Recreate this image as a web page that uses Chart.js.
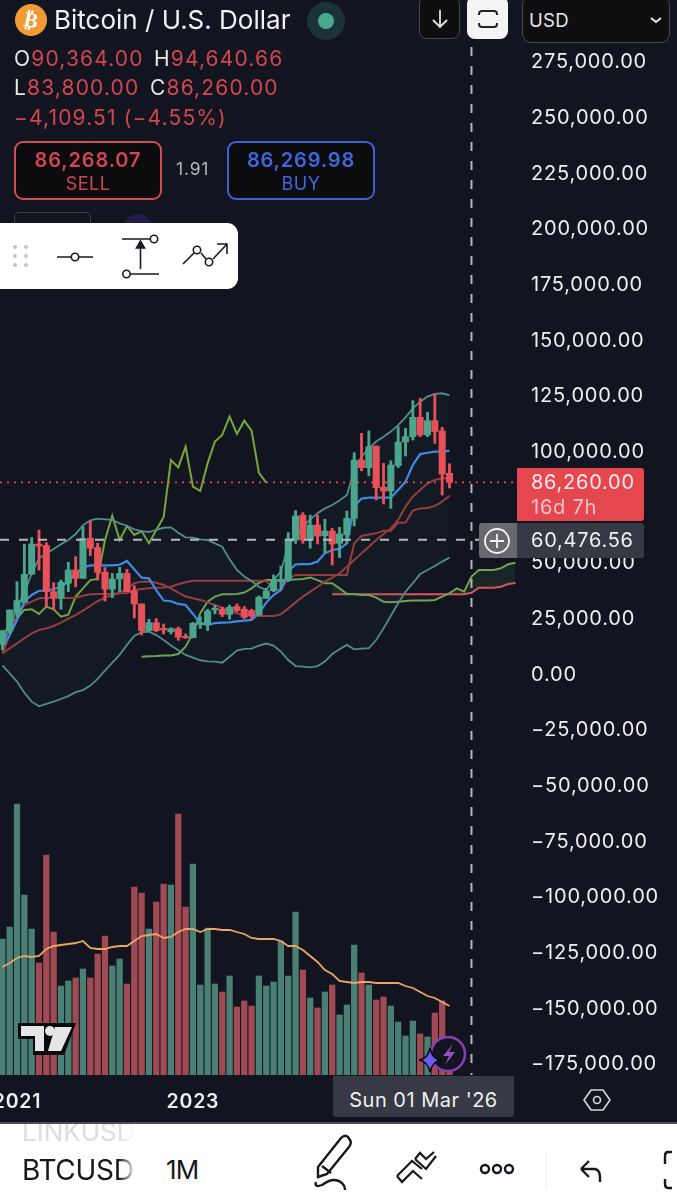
<!DOCTYPE html>
<html>
<head>
<meta charset="utf-8">
<title>BTCUSD 1M</title>
<script src="https://cdn.jsdelivr.net/npm/chart.js@4"></script>
<style>
  html, body { margin: 0; padding: 0; background: #12141f; }
  body { width: 677px; height: 1200px; position: relative; overflow: hidden; font-family: Inter, sans-serif; color: #fff; }
  canvas { position: absolute; left: 0; top: 0; }
  .abs { position: absolute; white-space: nowrap; }
  .red { color: #d2474f; }
  .ohlc { font-size: 21px; letter-spacing: 1.15px; line-height: 26px; color: #e9e9ec; }
  .tradebox { position: absolute; top: 141px; width: 143px; height: 55px; border-radius: 9px; background: #0c0c0f; text-align: center; }
  .tradebox b { display: block; font-size: 20px; font-weight: 600; letter-spacing: .85px; margin-top: 5px; line-height: 24px; }
  .tradebox span { display: block; font-size: 18px; line-height: 24px; letter-spacing: .5px; }
  .bar { position: absolute; left: 0; top: 1122px; width: 677px; height: 78px; background: #fff; border-top: 2px solid #4c4e54; box-sizing: border-box; overflow: hidden; color: #16181d; }
  .fade { -webkit-mask-image: linear-gradient(to right, #000 85%, transparent 100%); mask-image: linear-gradient(to right, #000 85%, transparent 100%); }
</style>
</head>
<body>
<canvas id="chart" width="677" height="1200"></canvas>

<!-- cabecera -->
<svg class="abs" style="left:14px;top:3px" width="36" height="36"><circle cx="17" cy="17" r="16" fill="#ef9a34"/><text x="17" y="24" text-anchor="middle" font-size="21" font-weight="700" fill="#fff" font-family="DejaVu Sans" transform="rotate(12 17 17)">₿</text></svg>
<div class="abs" style="left:54px;top:4px;font-size:26px;line-height:32px;color:#f2f2f4">Bitcoin / U.S. Dollar</div>
<svg class="abs" style="left:306px;top:1px" width="40" height="40"><circle cx="20" cy="20" r="19" fill="#1b3337"/><circle cx="20" cy="20" r="8" fill="#4aa88f"/></svg>

<div class="abs ohlc" style="left:14px;top:46px">O<span class="red">90,364.00</span></div>
<div class="abs ohlc" style="left:154px;top:46px">H<span class="red">94,640.66</span></div>
<div class="abs ohlc" style="left:14px;top:75px">L<span class="red">83,800.00</span></div>
<div class="abs ohlc" style="left:150px;top:75px">C<span class="red">86,260.00</span></div>
<div class="abs ohlc red" style="left:14px;top:105px;color:#d2474f">−4,109.51 (−4.55%)</div>

<div class="tradebox" style="left:14px;width:144px;border:2px solid #cf4e50;color:#d2474f"><b>86,268.07</b><span>SELL</span></div>
<div class="abs" style="left:176px;top:158px;font-size:17.5px;color:#b4b6bc;letter-spacing:.8px">1.91</div>
<div class="tradebox" style="left:227px;width:144px;border:2px solid #3d62d8;color:#3f66de"><b>86,269.98</b><span>BUY</span></div>

<div class="abs" style="left:14px;top:212px;width:75px;height:20px;border:1.5px solid #3c3f48;border-radius:5px"></div>
<svg class="abs" style="left:122px;top:213px" width="32" height="20"><circle cx="16" cy="16" r="15" fill="#221a4d"/></svg>

<!-- barra de herramientas blanca -->
<div class="abs" style="left:0;top:223px;width:238px;height:66px;background:#fff;border-radius:0 11px 11px 0"></div>
<svg class="abs" style="left:0;top:223px" width="238" height="66" fill="none" stroke="#1a1b20" stroke-width="1.6">
  <g fill="#c4c6cb" stroke="none"><circle cx="15" cy="24" r="2"/><circle cx="26" cy="24" r="2"/><circle cx="15" cy="33" r="2"/><circle cx="26" cy="33" r="2"/><circle cx="15" cy="42" r="2"/><circle cx="26" cy="42" r="2"/></g>
  <path d="M57 34H71M79 34H93"/><circle cx="75" cy="34" r="3.7"/>
  <path d="M122 16H150M131 51H159M140.500 46V20"/><path d="M140.500 14l-4 7h8z" fill="#1a1b20" transform="translate(0 4)"/><circle cx="154" cy="16" r="3.700"/><circle cx="126.500" cy="51" r="3.700"/>
  <path d="M183 41L194 30M201 30L206 36M213 36L227 21M217 21H227V31"/><circle cx="197" cy="27" r="3.700"/><circle cx="209" cy="39" r="3.700"/>
</svg>

<!-- botones arriba derecha -->
<div class="abs" style="left:419px;top:-4px;width:39px;height:41px;background:#0e0e11;border:1.5px solid #45474d;border-radius:8px"></div>
<svg class="abs" style="left:419px;top:0" width="40" height="38" fill="none" stroke="#e4e4e6" stroke-width="1.8"><path d="M21 10V27M14 20L21 27L28 20"/></svg>
<div class="abs" style="left:467px;top:-4px;width:41px;height:43px;background:#f4f4f6;border-radius:8px"></div>
<svg class="abs" style="left:467px;top:0" width="41" height="38" fill="none" stroke="#24252a" stroke-width="2"><path d="M12 15V14Q12 11 15 11H27Q30 11 30 14V15M12 23V24Q12 27 15 27H27Q30 27 30 24V23"/></svg>
<div class="abs" style="left:522px;top:-4px;width:146px;height:45px;background:#0e0e11;border:1.5px solid #45474d;border-radius:9px"></div>
<div class="abs" style="left:529px;top:8px;font-size:18.5px;line-height:24px;color:#e8e8ea;letter-spacing:.3px">USD</div>
<svg class="abs" style="left:648px;top:14px" width="16" height="12" fill="none" stroke="#e8e8ea" stroke-width="2"><path d="M3 4L8 8L13 4"/></svg>

<!-- etiquetas de precio -->
<div class="abs" style="left:517px;top:468px;width:127px;height:53px;background:#e5474f;border-radius:0 3px 3px 0"></div>
<div class="abs" style="left:531px;top:470px;font-size:20px;line-height:25px;letter-spacing:.75px;color:#fbeaea">86,260.00<br><span style="color:#f8c3c5">16d 7h</span></div>
<div class="abs" style="left:479px;top:523px;width:38px;height:35px;background:#68696f;border-radius:3px 0 0 3px"></div>
<div class="abs" style="left:517px;top:523px;width:127px;height:35px;background:#373a44;border-radius:0 3px 3px 0"></div>
<div class="abs" style="left:531px;top:528px;font-size:20px;line-height:25px;letter-spacing:.75px;color:#f0f0f2">60,476.56</div>
<svg class="abs" style="left:479px;top:523px" width="38" height="35" fill="none" stroke="#f4f4f6" stroke-width="1.8"><circle cx="18" cy="18" r="12"/><path d="M11 18H25M18 11V25"/></svg>

<!-- logo y rayo -->
<svg class="abs" style="left:17px;top:1022px" width="60" height="34"><path d="M1 1H59L47 33H16V17H1Z" fill="#0a0a0c"/><path d="M4 4H27V29H18V14H4ZM38 5H55L44 29H31Z" fill="#e6e6e8"/><circle cx="33" cy="9" r="5" fill="#e6e6e8"/></svg>
<svg class="abs" style="left:418px;top:1035px" width="52" height="40"><circle cx="30" cy="19" r="17" fill="#12141f" stroke="#8b3fb0" stroke-width="2.500"/><path d="M35 9L25 21H31L27 30L37 17H31Z" fill="#9a4cc4"/><path d="M12 13Q14 24 23 25Q14 27 12 37Q10 27 1 25Q10 24 12 13Z" fill="#6a5cf0" stroke="#0a0a0c" stroke-width="1.500"/></svg>

<!-- fecha -->
<div class="abs" style="left:333px;top:1076px;width:181px;height:41px;background:#373a44;border-radius:0 0 3px 3px;text-align:center;line-height:48px;font-size:20px;letter-spacing:.5px;color:#f0f0f2">Sun 01 Mar '26</div>
<svg class="abs" style="left:583px;top:1086px" width="28" height="28" fill="none" stroke="#d8d9dc" stroke-width="1.600"><path d="M8 4H20L27 14L20 24H8L1 14Z"/><circle cx="14" cy="14" r="3.500"/></svg>

<!-- barra inferior -->
<div class="bar">
  <div class="abs fade" style="left:22px;top:-6px;width:114px;overflow:hidden;font-size:26px;line-height:28px;color:#dcdde0">LINKUSD</div>
  <div class="abs fade" style="left:22px;top:30px;width:114px;overflow:hidden;font-size:28px;line-height:32px;letter-spacing:-.3px">BTCUSD</div>
  <div class="abs" style="left:166px;top:30px;font-size:26px;line-height:32px;letter-spacing:-.9px">1M</div>
  <div class="abs fade" style="left:22px;top:72px;width:114px;overflow:hidden;font-size:26px;line-height:28px;color:#dcdde0">LTCUSD</div>
  <svg class="abs" style="left:300px;top:0" width="377" height="78" fill="none" stroke="#16181d" stroke-width="2.400">
    <path d="M18 43L41 14Q45 10 48 13L50 16Q52 19 49 23L27 50L18 53Z"/><path d="M22 42L31 49"/><path d="M16 58Q14 64 22 61Q34 52 42 59Q45 62 45 66"/>
    <path d="M97 52L112 37L122 45M97 52L102 58L113 47L122 55M115 35L126 45L136 32M115 35L120 29L126 35L134 28" stroke-width="2.200"/>
    <circle cx="185" cy="45" r="4"/><circle cx="197" cy="45" r="4"/><circle cx="209" cy="45" r="4"/>
    <path d="M246 28V66" stroke="#eeeeef" stroke-width="1"/>
    <path d="M281 45H295Q300 46 300 53V58M281 45L289 37M281 45L289 53"/>
    <path d="M372 28H368Q365 28 365 32V40M372 64H368Q365 64 365 60V55"/>
  </svg>
</div>

<script>
// eje
const xTickIndex = [2, 26, 50];
const xTickLabels = ['2021', '2023', '2025'];
const yTicks = [275000, 250000, 225000, 200000, 175000, 150000, 125000, 100000, 75000, 50000, 25000, 0,
    -25000, -50000, -75000, -100000, -125000, -150000, -175000];

// velas mensuales, desde nov 2020 hasta dic 2025
const opens = [13550, 19700, 27500, 32400, 45000, 58600, 57900, 37200, 34200, 41000, 46900, 43200, 61200, 57000, 45900, 38300,
    42900, 45400, 37600, 31700, 19700, 23300, 20700, 19200, 20600, 17100, 16500, 22500, 22500, 29000, 29300, 27000,
    30500, 29300, 28700, 26700, 34200, 37600, 41700, 42400, 60400, 71600, 60400, 67100, 62300, 64400, 58900, 62700,
    70100, 96300, 92900, 102600, 84100, 82400, 93800, 104400, 106800, 115500, 107600, 114000, 109400, 90364];
const highs = [19700, 29000, 41700, 58500, 61500, 64900, 59200, 41200, 42400, 50400, 52900, 66400, 68900, 58900, 48000, 45400,
    48100, 47200, 39900, 31700, 24800, 25100, 22700, 21000, 21300, 18200, 23400, 26000, 29300, 31100, 30200, 31200,
    31700, 30500, 29300, 35300, 38700, 44700, 48700, 63700, 73600, 72700, 71600, 71600, 69700, 65600, 66100, 73400,
    99600, 108300, 109400, 102600, 94800, 96000, 111300, 110600, 123000, 124000, 117700, 126000, 111000, 94640];
const lows = [11000, 18500, 26000, 32400, 45000, 46900, 30500, 29000, 29300, 37200, 39400, 43200, 53400, 42400, 33000, 34500,
    37200, 37200, 25400, 17700, 19200, 19200, 18200, 18200, 15300, 16200, 16500, 20700, 19700, 27200, 26000, 24800,
    28200, 25100, 25200, 26600, 34200, 37200, 38300, 41700, 58900, 58900, 56700, 58600, 54400, 49200, 52500, 58900,
    66700, 91500, 89200, 78400, 76600, 74600, 92900, 98100, 105300, 106800, 106800, 103800, 80600, 83800];
const closes = [19700, 29000, 33200, 45000, 58600, 57700, 37200, 34500, 41400, 46900, 43200, 61200, 56700, 45900, 38300, 42900,
    45400, 37200, 31700, 19700, 23300, 19700, 20000, 20600, 16800, 16500, 23000, 23300, 28500, 29700, 27000, 30200,
    28700, 25700, 26400, 34700, 37500, 42400, 42400, 60900, 71200, 60400, 67100, 62200, 64400, 58600, 63100, 70100,
    96300, 92900, 102300, 83900, 82400, 94100, 104400, 106800, 115500, 107600, 114000, 109100, 90000, 86260];

const volumes = [136, 148, 271, 180, 146, 112, 220, 143, 89, 94, 97, 106, 97, 121, 139, 109, 116, 91, 188, 182, 146, 173, 191, 190,
    261, 168, 211, 90, 147, 91, 83, 99, 68, 74, 69, 99, 89, 93, 134, 99, 163, 105, 77, 67, 83, 90, 60, 70, 130, 102,
    90, 75, 78, 69, 53, 39, 54, 41, 38, 62, 74, 7];
const volumeMA = [108, 112, 117, 119, 118, 119, 126, 129, 130, 131, 132, 134, 127, 126, 126, 128, 129, 129, 134, 139, 140, 141, 137, 138,
    143, 146, 146, 143, 146, 146, 145, 145, 143, 141, 137, 136, 136, 136, 134, 129, 129, 125, 119, 113, 105, 101, 94, 93, 92, 93,
    93, 92, 92, 92, 92, 89, 87, 83, 79, 77, 73, 69];

// bandas de bollinger
const bbUpper = [13300, 20700, 30500, 36500, 45400, 52200, 54400, 56400, 58500, 60400, 63100, 67100, 69200, 70000, 69700, 69400,
    67900, 66800, 65200, 64400, 64000, 65000, 65900, 66100, 63700, 61600, 61500, 60700, 60400, 58900, 57400, 51700,
    47000, 44000, 42000, 39400, 37900, 42400, 46200, 58200, 61900, 66400, 69700, 72400, 74600, 76100, 78100, 80600,
    91800, 97800, 101600, 104600, 106800, 109100, 112000, 115500, 119500, 122500, 124800, 126000, 126300, 125400];
const bbLower = [4100, 500, -3200, -8200, -12200, -14300, -13200, -12200, -11000, -9700, -7900, -7000, -5000, -2000, 1700, 5300,
    8800, 13300, 17300, 19000, 19200, 17700, 15500, 13000, 10900, 8800, 7600, 6400, 5900, 5800, 5300, 8000,
    10700, 11500, 11600, 13000, 13900, 13000, 10300, 6500, 3800, 3500, 3200, 3800, 5800, 9200, 11300, 13300,
    11300, 11600, 11800, 15500, 20700, 26400, 32000, 37200, 41000, 45100, 46900, 48700, 50700, 52500];
const bbBasis = [12500, 17700, 24500, 32700, 35700, 37600, 37600, 38400, 39400, 41700, 45100, 48100, 49000, 49000, 49000, 49000,
    49300, 51000, 47200, 43500, 43200, 37900, 33200, 32900, 31700, 31200, 27200, 23000, 22200, 23100, 23300, 23400,
    23900, 24200, 24500, 27500, 32300, 35700, 37900, 46200, 49500, 49600, 49600, 50700, 54400, 55900, 56400, 58900,
    75400, 79000, 79400, 79400, 79400, 79400, 82900, 86600, 94100, 99000, 99600, 100100, 100100, 100400];

// ichimoku
const conversionLine = [9500, 17700, 26000, 31200, 32700, 34200, 34500, 34300, 34300, 34300, 34500, 35400, 36000, 36200, 36200, 36300,
    36500, 36500, 38000, 38400, 38700, 39000, 39100, 39400, 40500, 41400, 42100, 42100, 42100, 42100, 42100, 42100,
    42100, 42100, 42100, 42100, 42100, 38300, 38000, 43200, 44700, 44700, 44700, 44700, 44700, 44700, 44700, 44700,
    58900, 62200, 62900, 63400, 64600, 64600, 68200, 68300, 73600, 74600, 74800, 75700, 77600, 80300];
const baseLine = [9500, 11700, 14000, 16300, 18500, 20000, 20700, 21800, 23300, 25100, 26700, 28700, 30800, 32900, 34500, 35700,
    36500, 38700, 41000, 41700, 41800, 41200, 40200, 38700, 36800, 35000, 34200, 33500, 32400, 31200, 30000, 28700,
    27500, 26700, 26300, 26300, 26300, 26300, 27000, 29700, 32400, 35000, 37200, 39400, 41700, 43500, 45400, 48400,
    51400, 54400, 57400, 60400, 63100, 65600, 69400, 75400, 79900, 82900, 85900, 87400, 88000, 88400];
const laggingSpan = [16500, 23000, 25200, 29000, 29300, 27200, 30500, 29300, 26000, 26900, 35000, 38700, 42400, 42900, 60400, 71300,
    60400, 66700, 62700, 64400, 58900, 64900, 70600, 96300, 93000, 102300, 84400, 82400, 94800, 104600, 107600, 115800,
    108000, 114000, 109500, 90600, 86200];
const leadingAStart = 19;
const leadingA = [8000, 8200, 8300, 8500, 8500, 9200, 12500, 18500, 27500, 32700, 35000, 36000, 36000, 36200, 36800, 38700, 41200,
    42400, 42400, 42400, 42400, 42700, 42900, 43600, 42400, 41000, 41000, 38700, 36200, 36200, 35700, 35700, 34500, 32700,
    32400, 32700, 33000, 33200, 33200, 33200, 33500, 35000, 36500, 38700, 37200, 44000, 46900, 46900, 46900, 47700, 49500, 50200];
const leadingBStart = 45;
const leadingB = [36000, 36000, 36000, 36000, 36000, 36000, 36000, 36000, 36000, 36000, 36000, 36000, 36000, 36000, 36000, 36000,
    36000, 36000, 36000, 36700, 39000, 39000, 39000, 39400, 40600, 41100];

const lastPrice = 86260;
const crosshairPrice = 60476.56;
const crosshairIndex = 64;

// convertir a puntos x,y
function puntos(valores, inicio) {
    return valores.map(function (v, i) {
        return { x: i + (inicio || 0), y: v };
    });
}

const velaVerde = '#4ba58d', velaRoja = '#e8505a';
const volVerde = '#4a8073', volRoja = '#a04a54';
const subida = closes.map(function (c, i) { return c >= opens[i]; });
const colorVela = subida.map(function (s) { return s ? velaVerde : velaRoja; });
const colorVol = subida.map(function (s) { return s ? volVerde : volRoja; });

function linea(label, valores, color, ancho, inicio, extra) {
    return Object.assign({
        type: 'line', label: label, data: puntos(valores, inicio), borderColor: color, borderWidth: ancho,
        pointRadius: 0, tension: 0, fill: false, order: 5, yAxisID: 'y'
    }, extra || {});
}

// linea de ultimo precio y cruceta
const crucetaPlugin = {
    id: 'cruceta',
    beforeDraw: function (chart) {
        chart.ctx.letterSpacing = '0.8px'; // las etiquetas del eje van algo separadas
    },
    afterDatasetsDraw: function (chart) {
        const c = chart.ctx, a = chart.chartArea;
        const px = chart.scales.x.getPixelForValue(crosshairIndex);
        const py = chart.scales.y.getPixelForValue(crosshairPrice);
        const pl = chart.scales.y.getPixelForValue(lastPrice);
        c.save();
        c.lineWidth = 1.6;
        c.strokeStyle = '#e8485c';
        c.setLineDash([2, 5]);
        c.beginPath(); c.moveTo(a.left, pl); c.lineTo(a.right, pl); c.stroke();
        c.lineWidth = 2;
        c.strokeStyle = '#b4b6bc';
        c.setLineDash([9, 10]);
        c.beginPath(); c.moveTo(a.left, py); c.lineTo(479, py); c.stroke();
        c.beginPath(); c.moveTo(px, 47); c.lineTo(px, a.bottom); c.stroke();
        c.restore();
    }
};

new Chart(document.getElementById('chart'), {
    data: {
        datasets: [
            // 0 y 1: bollinger con relleno
            linea('BB superior', bbUpper, '#4f8f89', 1.8, 0, { fill: { target: 1, above: 'rgba(50,110,110,0.07)', below: 'rgba(50,110,110,0.07)' } }),
            linea('BB inferior', bbLower, '#4f8f89', 1.8, 0),
            linea('BB media', bbBasis, '#3f8df0', 2.2),
            linea('Conversion', conversionLine, '#a03a3c', 2),
            linea('Base', baseLine, '#a03a3c', 2),
            linea('Retraso', laggingSpan, '#7aa63c', 2),
            // 6 y 7: nube
            linea('Adelanto A', leadingA, '#6fa552', 2, leadingAStart, { fill: { target: 7, above: 'rgba(60,130,80,0.16)', below: 'rgba(200,70,80,0.05)' } }),
            linea('Adelanto B', leadingB, '#dd5560', 2, leadingBStart),
            {
                type: 'bar', label: 'Mecha', data: highs.map(function (h, i) { return { x: i, y: [lows[i], h] }; }),
                backgroundColor: colorVela, barThickness: 2.2, grouped: false, order: 2, yAxisID: 'y'
            },
            {
                type: 'bar', label: 'Cuerpo', data: opens.map(function (o, i) { return { x: i, y: [o, closes[i]] }; }),
                backgroundColor: colorVela, barThickness: 6.4, grouped: false, order: 1, yAxisID: 'y'
            },
            {
                type: 'bar', label: 'Volumen', data: puntos(volumes), backgroundColor: colorVol,
                barThickness: 5.6, grouped: false, order: 10, yAxisID: 'yVol'
            },
            linea('Volumen MA', volumeMA, '#eba566', 1.8, 0, { order: 9, yAxisID: 'yVol' })
        ]
    },
    options: {
        responsive: false,
        animation: false,
        events: [],
        layout: { padding: 0 },
        plugins: { legend: { display: false }, tooltip: { enabled: false } },
        scales: {
            x: {
                type: 'linear', min: -0.32, max: 70.21, offset: false,
                grid: { display: false }, border: { display: false },
                afterBuildTicks: function (s) { s.ticks = xTickIndex.map(function (v) { return { value: v }; }); },
                afterFit: function (s) { s.height = 125; s.paddingLeft = 0; s.paddingRight = 0; },
                ticks: {
                    autoSkip: false, maxRotation: 0, padding: 7, color: '#eeeef0',
                    font: { family: 'Inter', size: 19.5, weight: '600' },
                    callback: function (v) { return xTickLabels[xTickIndex.indexOf(v)]; }
                }
            },
            y: {
                position: 'right', min: -179860, max: 302910,
                grid: { display: false }, border: { display: false },
                afterBuildTicks: function (s) { s.ticks = yTicks.map(function (v) { return { value: v }; }); },
                afterFit: function (s) { s.width = 160; s.paddingTop = 0; s.paddingBottom = 0; },
                ticks: {
                    autoSkip: false, crossAlign: 'near', padding: 6, color: '#eeeef0',
                    font: { family: 'Inter', size: 20 },
                    callback: function (v) {
                        const t = Math.abs(v).toLocaleString('en-US', { minimumFractionDigits: 2, maximumFractionDigits: 2 });
                        return (v < 0 ? '\u2212' : '') + t;
                    }
                }
            },
            yVol: { display: false, min: 0, max: 1075 }
        }
    },
    plugins: [crucetaPlugin]
});
</script>
</body>
</html>
